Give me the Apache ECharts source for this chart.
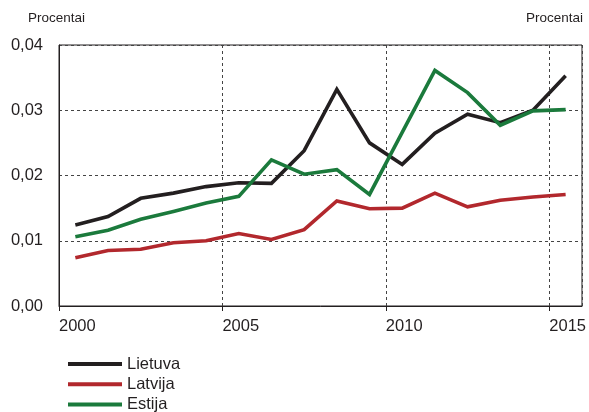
<!DOCTYPE html>
<html>
<head>
<meta charset="utf-8">
<script src="https://cdn.jsdelivr.net/npm/echarts@6/dist/echarts.min.js"></script>
<style>
html,body{margin:0;padding:0;background:#fff;}
#c{width:589px;height:412px;}
</style>
</head>
<body>
<div id="c"></div>
<script>
var years = [2000,2001,2002,2003,2004,2005,2006,2007,2008,2009,2010,2011,2012,2013,2014,2015];
var lietuva = [0.0124,0.0137,0.0165,0.0173,0.0183,0.0189,0.0188,0.0238,0.0332,0.0250,0.0217,0.0265,0.0294,0.0281,0.0300,0.0353];
var latvija = [0.0074,0.0085,0.0087,0.0097,0.0100,0.0111,0.0102,0.0117,0.0161,0.0149,0.0150,0.0173,0.0152,0.0162,0.0167,0.0171];
var estija  = [0.0106,0.0116,0.0133,0.0145,0.0158,0.0168,0.0224,0.0202,0.0209,0.0171,0.0266,0.0361,0.0327,0.0277,0.0299,0.0301];
var seriesNames = ['Lietuva','Latvija','Estija'];
var colors = ['#231f20','#b2282d','#1b7a3c'];
var yTicks = ['0,00','0,01','0,02','0,03','0,04'];
var xTicks = ['2000','2005','2010','2015'];
var unitLabel = 'Procentai';

var FONT = "'Liberation Sans',Arial,sans-serif";
function pts(vals){ return vals.map(function(v,i){ return [years[i]+0.5, v]; }); }
var allVals = [lietuva, latvija, estija];

var chart = echarts.init(document.getElementById('c'), null, {renderer:'canvas'});
chart.setOption({
  animation:false,
  backgroundColor:'#ffffff',
  textStyle:{fontFamily:FONT, color:'#231f20'},
  grid:{left:59, right:2, top:45, bottom:106, show:true, borderColor:'#231f20', borderWidth:1, backgroundColor:'transparent'},
  xAxis:{
    type:'value', min:2000, max:2016, interval:5,
    axisLine:{show:true, lineStyle:{color:'#231f20', width:1}},
    axisTick:{show:true, length:5, lineStyle:{color:'#231f20'}},
    axisLabel:{show:true, showMaxLabel:false, align:'left', margin:12, fontSize:16.5, fontFamily:FONT, color:'#231f20',
      formatter:function(v){ var s=String(Math.round(v)); return xTicks.indexOf(s)>=0 ? s : ''; }},
    splitLine:{show:true, lineStyle:{color:'#444', width:1, type:[3,3]}}
  },
  yAxis:{
    type:'value', min:0, max:0.04, interval:0.01,
    axisLine:{show:true, lineStyle:{color:'#231f20', width:1}},
    axisTick:{show:false},
    axisLabel:{margin:16, fontSize:16.5, fontFamily:FONT, color:'#231f20',
      formatter:function(v){ return yTicks[Math.round(v*100)]; }},
    splitLine:{show:true, lineStyle:{color:'#444', width:1, type:[3,3]}}
  },
  legend:{
    orient:'vertical', left:68, top:354, height:80, padding:0, itemWidth:54, itemHeight:4, itemGap:0.3,
    icon:'rect',
    textStyle:{fontSize:16.5, fontFamily:FONT, color:'#231f20', lineHeight:20},
    data:seriesNames
  },
  graphic:[
    {type:'text', left:28, top:11.5, style:{text:unitLabel, fontSize:13.5, fontFamily:FONT, fill:'#231f20'}},
    {type:'text', right:6, top:11.5, style:{text:unitLabel, fontSize:13.5, fontFamily:FONT, fill:'#231f20'}}
  ],
  series: seriesNames.map(function(n,i){
    return {name:n, type:'line', data:pts(allVals[i]), showSymbol:false, symbol:'none',
      itemStyle:{color:colors[i]},
      lineStyle:{color:colors[i], width:3.6, join:'miter'}, z:2+i};
  })
});
</script>
</body>
</html>
